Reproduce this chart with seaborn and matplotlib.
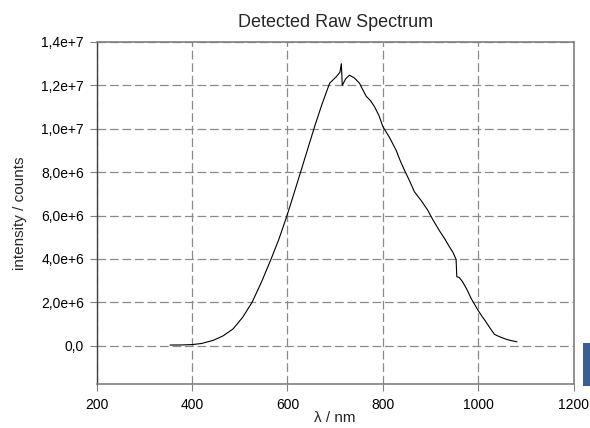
import matplotlib
matplotlib.use("Agg")
import matplotlib.pyplot as plt
import seaborn as sns
import pandas as pd
from matplotlib.patches import Rectangle

sns.set_theme(style="white")
plt.rcParams['font.family'] = ['Liberation Sans', 'DejaVu Sans']

wavelength = [354, 380, 400, 420, 445, 465, 486, 506, 526, 546, 566.5, 582, 596, 605,
              617, 629, 643, 657, 672, 688.5, 702.5, 710, 713, 715, 722, 730, 740, 751,
              758, 765, 774, 783, 792, 800, 814, 828, 836, 845, 856, 866, 873, 880, 894,
              905, 918.6, 929, 939.5, 947, 953.5, 955, 960, 967, 976, 985, 999, 1008,
              1016, 1025, 1034, 1046, 1058, 1070, 1081]
intensity = [0.03e6, 0.035e6, 0.05e6, 0.1e6, 0.25e6, 0.45e6, 0.77e6, 1.3e6, 2.0e6, 2.95e6,
             4.03e6, 4.9e6, 5.79e6, 6.4e6, 7.25e6, 8.1e6, 9.1e6, 10.1e6, 11.1e6, 12.1e6,
             12.4e6, 12.6e6, 13.0e6, 12.0e6, 12.3e6, 12.47e6, 12.35e6, 12.1e6, 11.8e6, 11.5e6,
             11.3e6, 11.0e6, 10.6e6, 10.1e6, 9.6e6, 9.0e6, 8.55e6, 8.1e6, 7.6e6, 7.1e6,
             6.9e6, 6.7e6, 6.25e6, 5.8e6, 5.3e6, 4.95e6, 4.56e6, 4.3e6, 3.98e6, 3.18e6,
             3.15e6, 2.95e6, 2.6e6, 2.18e6, 1.65e6, 1.35e6, 1.1e6, 0.8e6, 0.52e6, 0.4e6,
             0.3e6, 0.23e6, 0.18e6]

xticks = [200, 400, 600, 800, 1000, 1200]
yticks = [0, 2e6, 4e6, 6e6, 8e6, 10e6, 12e6, 14e6]
ytick_labels = ["0,0", "2,0e+6", "4,0e+6", "6,0e+6", "8,0e+6", "1,0e+7", "1,2e+7", "1,4e+7"]

df = pd.DataFrame({"wavelength": wavelength, "intensity": intensity})

fig = plt.figure(figsize=(5.9, 4.28), dpi=100)
ax = fig.add_axes([0.1636, 0.1021, 0.8088, 0.7998])

sns.lineplot(data=df, x="wavelength", y="intensity", ax=ax, color="black",
             linewidth=0.8, sort=False)

ax.set_xlim(200, 1200)
ax.set_ylim(-1.78e6, 14e6)
ax.set_xticks(xticks)
ax.set_xticklabels([str(v) for v in xticks])
ax.set_yticks(yticks)
ax.set_yticklabels(ytick_labels)
ax.tick_params(axis="both", labelsize=10, colors="black", length=5, width=0.8,
               direction="out", left=True, bottom=True)
ax.tick_params(axis="x", pad=5)
ax.tick_params(axis="y", pad=4)
ax.tick_params(axis="both", color="#808080")

ax.grid(True, color="#8a8a8a", linestyle=(0, (7, 3)), linewidth=0.9)
for side in ["top", "right", "bottom"]:
    ax.spines[side].set_color("#808080")
    ax.spines[side].set_linewidth(1.2)
ax.spines["left"].set_color("#404040")
ax.spines["left"].set_linewidth(1.0)

ax.set_xlabel("λ / nm", fontsize=11, labelpad=-1)
ax.set_ylabel("intensity / counts", fontsize=11, labelpad=10)
ax.set_title("Detected Raw Spectrum", fontsize=13, pad=11)

fig.patches.append(Rectangle((0.9876, 0.0981), 0.0124, 0.1005, transform=fig.transFigure,
                             facecolor="#3b5f8e", edgecolor="none"))

fig.savefig("out.png", dpi=100)
